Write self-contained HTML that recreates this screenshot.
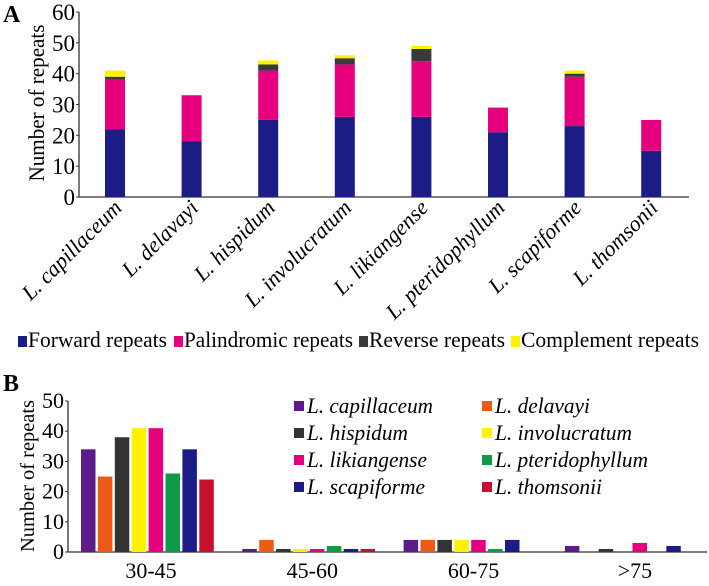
<!DOCTYPE html>
<html><head><meta charset="utf-8"><style>
body{margin:0;background:#fff}
svg, svg text{font-family:"Liberation Serif","DejaVu Serif","Times New Roman",serif}
</style></head><body>
<svg id="c" width="709" height="581" font-family="Liberation Serif, DejaVu Serif, serif">
<text x="3" y="22" font-size="24" font-weight="bold">A</text>
<text x="3" y="391" font-size="24" font-weight="bold">B</text>
<g id="a"></g><g id="b"></g>
</svg>
<script>
const NS="http://www.w3.org/2000/svg";
const species=["L. capillaceum","L. delavayi","L. hispidum","L. involucratum","L. likiangense","L. pteridophyllum","L. scapiforme","L. thomsonii"];
const forward=[22,18,25,26,26,21,23,15];
const palindromic=[16,15,16,17,18,8,16,10];
const reverse=[1,0,2,2,4,0,1,0];
const complement=[2,0,1.3,1,1,0,1,0];
const ticksA=[0,10,20,30,40,50,60];
const stackNames=["Forward repeats","Palindromic repeats","Reverse repeats","Complement repeats"];
const stackColors=["#1c1c87","#e6007e","#3a3a3a","#fff200"];
const lengthCats=["30-45","45-60","60-75",">75"];
const capillaceum=[34,1,4,2];
const delavayi=[25,4,4,0];
const hispidum=[38,1,4,1];
const involucratum=[41,1,4,0];
const likiangense=[41,1,4,3];
const pteridophyllum=[26,2,1,0];
const scapiforme=[34,1,4,2];
const thomsonii=[24,1,0,0];
const ticksB=[0,10,20,30,40,50];
const seriesB=[capillaceum,delavayi,hispidum,involucratum,likiangense,pteridophyllum,scapiforme,thomsonii];
const colorsB=["#5c1a8a","#ec5a16","#333333","#fff200","#e6007e","#0f9a48","#1c1c87","#c8102e"];
const FF='Liberation Serif, DejaVu Serif, serif';

function el(p,t,a,txt){const e=document.createElementNS(NS,t);for(const k in a)e.setAttribute(k,a[k]);if(txt!=null){e.textContent=txt;e.setAttribute('font-family',FF);}p.appendChild(e);return e;}

// Panel A
const A=document.getElementById('a');
const ax0=79,ax1=689,ay0=197,ay1=12;
const yA=v=>ay0-(v/60)*(ay0-ay1);
const xA=i=>115+i*76.6;
let e=el(A,'line',{x1:ax0,y1:ay1,x2:ax0,y2:ay0,stroke:'#333','stroke-width':1.3});

e=el(A,'line',{x1:ax0,y1:ay0,x2:ax1,y2:ay0,stroke:'#333','stroke-width':1.3});

ticksA.forEach(t=>{
  el(A,'line',{x1:ax0-3,y1:yA(t),x2:ax0,y2:yA(t),stroke:'#333'});
  e=el(A,'text',{x:ax0-4,y:yA(t)+8,'text-anchor':'end','font-size':23},t);
  
});
e=el(A,'text',{x:0,y:0,'font-size':22,'text-anchor':'middle',textLength:157,lengthAdjust:'spacingAndGlyphs',transform:'translate(44,103) rotate(-90)'},'Number of repeats');

const stacks=[forward,palindromic,reverse,complement];
species.forEach((s,i)=>{
  let base=0;
  stacks.forEach((arr,k)=>{
    const v=arr[i];if(v<=0)return;
    const r=el(A,'rect',{x:xA(i)-10,y:yA(base+v),width:20,height:yA(base)-yA(base+v),fill:stackColors[k]});
    
    base+=v;
  });
  const t=el(A,'text',{x:0,y:0,'font-size':22,'font-style':'italic','text-anchor':'end',transform:`translate(${xA(i)+8},${ay0+12}) rotate(-45)`},s);
  
});
// legend A
const legX=[18,174,359,511];
const legW=[139,169,136,178];
stackNames.forEach((n,k)=>{
  const g=el(A,'g',{});
  
  el(g,'rect',{x:legX[k],y:336,width:9,height:11,fill:stackColors[k]});
  el(g,'text',{x:legX[k]+10,y:347,'font-size':22,textLength:legW[k],lengthAdjust:'spacingAndGlyphs'},n);
});

// Panel B
const B=document.getElementById('b');
const bx0=68,bx1=707,by0=552,by1=401;
const yB=v=>by0-(v/50)*(by0-by1);
const gx=i=>81+i*161.3;
e=el(B,'line',{x1:bx0,y1:by1,x2:bx0,y2:by0,stroke:'#333','stroke-width':1.3});

e=el(B,'line',{x1:bx0,y1:by0,x2:bx1,y2:by0,stroke:'#333','stroke-width':1.3});

ticksB.forEach(t=>{
  el(B,'line',{x1:bx0-3,y1:yB(t),x2:bx0,y2:yB(t),stroke:'#333'});
  e=el(B,'text',{x:bx0-4,y:yB(t)+7,'text-anchor':'end','font-size':22},t);
  
});
e=el(B,'text',{x:0,y:0,'font-size':20,'text-anchor':'middle',textLength:152,lengthAdjust:'spacingAndGlyphs',transform:'translate(34,476) rotate(-90)'},'Number of repeats');

lengthCats.forEach((c,i)=>{
  seriesB.forEach((arr,k)=>{
    const v=arr[i];if(v<=0)return;
    const r=el(B,'rect',{x:gx(i)+k*16.9,y:yB(v),width:14.5,height:by0-yB(v),fill:colorsB[k]});
    
  });
  const t=el(B,'text',{x:gx(i)+70,y:578,'text-anchor':'middle','font-size':22},c);
  
});
const legWB=[126,95,101,137,120,153,118,107];
species.forEach((s,k)=>{
  const col=k%2,row=Math.floor(k/2);
  const x=col?482:294,y=406+row*27;
  const g=el(B,'g',{});
  
  el(g,'rect',{x:x,y:y-5,width:10,height:10,fill:colorsB[k]});
  el(g,'text',{x:x+13,y:y+7,'font-size':22,'font-style':'italic',textLength:legWB[k],lengthAdjust:'spacingAndGlyphs'},s);
});
</script>
</body></html>
